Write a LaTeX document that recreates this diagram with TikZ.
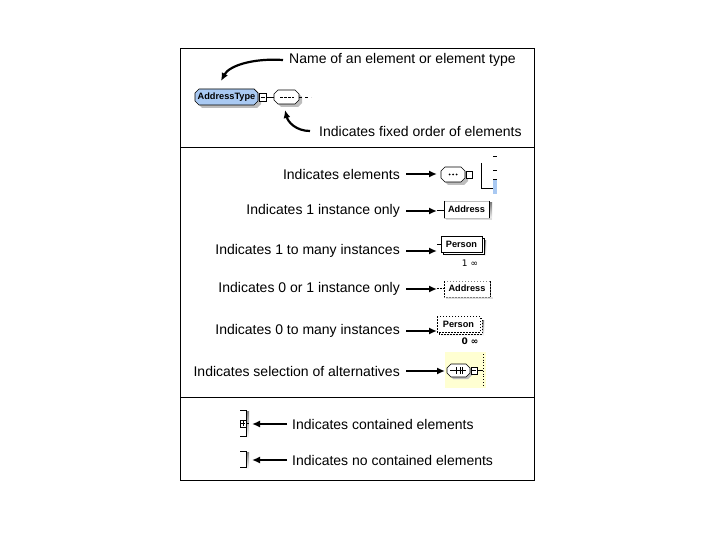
\documentclass[tikz,border=0pt]{standalone}
\usepackage{fontspec}
\setmainfont{Liberation Sans}
\newfontfamily\djv{DejaVu Sans}
\usetikzlibrary{arrows.meta,calc}
\definecolor{boxblue}{HTML}{A9C9F2}
\definecolor{chyellow}{HTML}{FFFFD2}
\definecolor{shade}{HTML}{BDBDBD}
\newcommand\myocta[5][]{%
  \path[#1] (#2+4,#3) -- (#4-4,#3) -- (#4,#3+4) -- (#4,#5-4) -- (#4-4,#5) -- (#2+4,#5) -- (#2,#5-4) -- (#2,#3+4) -- cycle;}
\begin{document}
\begin{tikzpicture}[x=1pt,y=-1pt,
  lbl/.style={font=\fontsize{14}{16}\selectfont, inner sep=0pt},
  small/.style={font=\fontsize{9.2}{10}\selectfont\bfseries, inner sep=0pt},
  arr/.style={line width=2pt, -{Latex[length=8pt,width=7pt]}},
  frame/.style={line width=1pt},
  shadowfill/.style={fill=shade, draw=none},
  ebox/.style={fill=white, draw=black, line width=0.6pt}]
\useasboundingbox (0,0) rectangle (720,540);
% frame
\draw[frame] (180.5,48.5) rectangle (534.5,480);
\draw[frame] (180.5,148) -- (534.5,148);
\draw[frame] (180.5,397) -- (534.5,397);

% ---------- top section ----------
\node[lbl, anchor=west] (t1) at (289,60) {Name of an element or element type};
\node[lbl, anchor=west] (t2) at (319,131) {Indicates fixed order of elements};

% AddressType box
\myocta[shadowfill]{198}{92}{261}{108}
\myocta[fill=boxblue, draw=black, line width=0.7pt]{195}{89}{258}{105}
\node[small] (atype) at (226.5,97) {AddressType};
% collapse square and sequence
\draw[fill=white, line width=0.6pt] (259,93) rectangle (266,101);
\draw (260.5,97) -- (264.5,97);
\draw (266,97) -- (274,97);
\myocta[shadowfill]{277}{93}{302}{107}
\myocta[ebox]{274}{90}{299}{104}
\node[inner sep=0pt, minimum size=0pt] (seqtop) at (286.5,97) {};
\draw[line width=0.8pt, dash pattern=on 3pt off 1pt] (280,97) -- (294,97);
\draw[dash pattern=on 3pt off 3pt] (299,97) -- (311,97);

\coordinate (a1end) at (221,81);
\coordinate (a2end) at (285,110);
\draw[line width=2.2pt, -{Latex[length=8pt,width=7pt]}] ([xshift=-6pt]t1.west) .. controls (252,58) and (229,66) .. (a1end);
\draw[line width=2.2pt, -{Latex[length=8pt,width=7pt]}] ([xshift=-9pt]t2.west) .. controls (296,131) and (288,122) .. (a2end);

% ---------- middle section ----------
\node[lbl, anchor=east] (m1) at (400,174) {Indicates elements};
\node[lbl, anchor=east] (m2) at (400,211) {Indicates 1 instance only};
\node[lbl, anchor=east] (m3) at (400,251) {Indicates 1 to many instances};
\node[lbl, anchor=east] (m4) at (400,289) {Indicates 0 or 1 instance only};
\node[lbl, anchor=east] (m5) at (400,331) {Indicates 0 to many instances};
\node[lbl, anchor=east] (m6) at (400,371) {Indicates selection of alternatives};

% icon 1: sequence
\myocta[shadowfill]{444}{170}{468}{185}
\myocta[ebox]{441}{167}{465}{182}
\node[inner sep=0pt, minimum size=0pt] (i1) at (453,174.5) {};
\foreach \d in {-3.5,0,3.5} \fill ($(i1)+(\d,0)$) circle (1pt);
\draw[fill=white, line width=0.6pt] (466,171) rectangle (472,178);
\draw[line width=0.7pt] (481,163) -- (481,188) -- (494,188);
\draw[line width=0.6pt] (493,156) -- (497,156);
\draw[line width=0.6pt] (493,170) -- (497,170);
\fill[boxblue] (493,179) rectangle (497,194);
\draw[line width=0.6pt] (493,179) -- (497,179);

% icon 2: Address (1 instance)
\fill[shade] (489,203) rectangle (492,220);
\fill[shade!50] (446,218) rectangle (492,220);
\draw[draw=gray!50, fill=white] (444,201) rectangle (489,218);
\draw[line width=0.7pt] (444,201) -- (444,218);
\draw[line width=0.7pt] (489,201) -- (489,218);
\draw[line width=0.7pt] (437,210) -- (444,210);
\node[small] (i2) at (466.5,209.5) {Address};

% icon 3: Person (1 to many)
\fill[shade] (445,240) rectangle (486,256);
\draw[fill=white, line width=0.6pt] (443,238) rectangle (484,254);
\draw[fill=white, line width=0.7pt] (441,236) rectangle (482,252);
\draw[line width=0.7pt] (437,244) -- (441,244);
\node[small] (i3) at (461.5,244) {Person};
\node[inner sep=0pt, font=\djv\fontsize{9}{10}\selectfont] (c3) at (470,263) {1 ∞};

% icon 4: Address (0 or 1)
\fill[shade!50] (446,297) rectangle (493,299);
\draw[dash pattern=on 1.5pt off 1.5pt, draw=gray, fill=white] (444,281) rectangle (490,297);
\draw[dash pattern=on 1.5pt off 1.5pt, line width=0.7pt] (444,281) -- (444,297);
\draw[dash pattern=on 1.5pt off 1.5pt, line width=0.7pt] (490,281) -- (490,297);
\draw[dash pattern=on 1.5pt off 1.5pt, line width=0.6pt] (437,288) -- (444,288);
\node[small] (i4) at (467,288) {Address};

% icon 5: Person (0 to many)
\fill[shade] (441,320) rectangle (484,336);
\draw[dash pattern=on 1.5pt off 1.5pt, fill=white, line width=0.6pt] (439,318) rectangle (482,334);
\draw[dash pattern=on 1.5pt off 1.5pt, fill=white, line width=0.7pt] (437,316) rectangle (480,332);
\node[small] (i5) at (458.5,324) {Person};
\node[inner sep=0pt, font=\djv\fontsize{9}{10}\selectfont\bfseries] (c5) at (470,341) {0 ∞};

% icon 6: choice
\fill[chyellow] (445,352) rectangle (486,388);
\myocta[shadowfill]{449}{366}{472}{379}
\myocta[ebox]{447}{364}{470}{377}
\node[inner sep=0pt, minimum size=0pt] (i6) at (458.5,370.5) {};
\draw[line width=0.7pt] (450,370.5) -- (466,370.5);
\draw[line width=0.7pt] (456,367) -- (456,374);
\draw[line width=0.7pt] (460,367) -- (460,374);
\draw[line width=0.7pt] (462,367) -- (462,374);
\draw[fill=white, line width=0.6pt] (471,367) rectangle (477,374);
\draw (472,370.5) -- (476,370.5);
\draw (477,370.5) -- (483,370.5);
\draw[dotted, line width=0.8pt] (483,354) -- (483,387);

% arrows middle
\coordinate (e1) at (437,174);
\coordinate (e2) at (437,211);
\coordinate (e3) at (437,251);
\coordinate (e4) at (437,289);
\coordinate (e5) at (437,331);
\coordinate (e6) at (445,371);
\draw[arr] ([xshift=6pt]m1.east) -- (e1);
\draw[arr] ([xshift=6pt]m2.east) -- (e2);
\draw[arr] ([xshift=6pt]m3.east) -- (e3);
\draw[arr] ([xshift=6pt]m4.east) -- (e4);
\draw[arr] ([xshift=6pt]m5.east) -- (e5);
\draw[arr] ([xshift=6pt]m6.east) -- (e6);

% ---------- bottom section ----------
\node[lbl, anchor=west] (b1) at (292,424) {Indicates contained elements};
\node[lbl, anchor=west] (b2) at (292,460) {Indicates no contained elements};

% bracket with +
\fill[shade] (246,411) rectangle (249,438);
\draw[line width=0.8pt] (240,410) -- (246,410) -- (246,436) -- (240,436);
\draw[fill=white, line width=0.6pt] (240,420) rectangle (246,427);
\draw (241,423.5) -- (245,423.5);
\draw (243,421) -- (243,426);
\draw (246,423.5) -- (249,423.5);
% bracket without
\fill[shade] (246,452) rectangle (249,469);
\draw[line width=0.8pt] (240,451) -- (246,451) -- (246,467) -- (240,467);

\coordinate (f1) at (252,424);
\coordinate (f2) at (252,460);
\draw[arr] ([xshift=-5pt]b1.west) -- (f1);
\draw[arr] ([xshift=-5pt]b2.west) -- (f2);
\end{tikzpicture}
\end{document}
